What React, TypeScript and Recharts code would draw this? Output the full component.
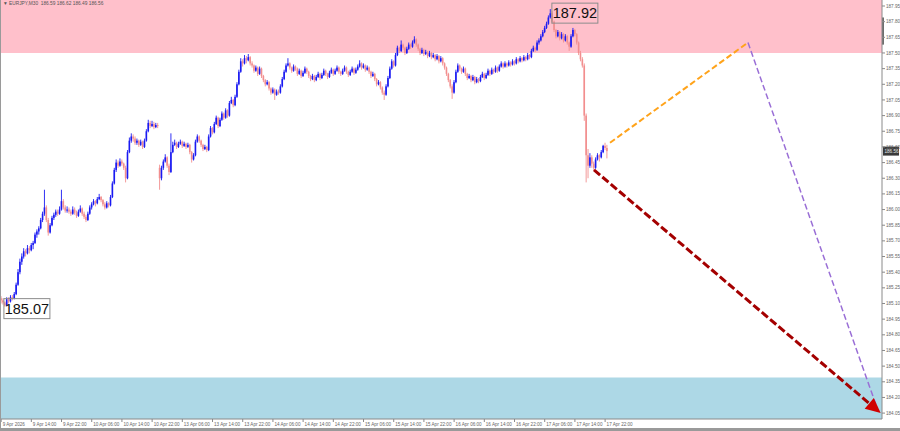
import { Bar, ComposedChart, ReferenceArea, ReferenceDot, ReferenceLine, XAxis, YAxis } from 'recharts'

type Ohlc = [number, number, number, number]

// EURJPY M30, one array per trading session, each bar is [open, high, low, close]
const apr09: Ohlc[] = [
  [185.15, 185.17, 185.1, 185.13], [185.13, 185.15, 185.09, 185.11], [185.11, 185.12, 185.07, 185.08], [185.08, 185.16, 185.08, 185.14], [185.14, 185.16, 185.1, 185.12], [185.12, 185.18, 185.11, 185.16],
  [185.16, 185.18, 185.13, 185.15], [185.15, 185.21, 185.14, 185.19], [185.19, 185.3, 185.18, 185.28], [185.28, 185.43, 185.27, 185.4], [185.4, 185.53, 185.38, 185.5], [185.5, 185.58, 185.47, 185.55],
  [185.55, 185.63, 185.53, 185.6], [185.6, 185.62, 185.55, 185.58], [185.58, 185.66, 185.57, 185.63], [185.63, 185.65, 185.58, 185.61], [185.61, 185.68, 185.6, 185.66], [185.66, 185.7, 185.62, 185.68],
  [185.68, 185.78, 185.67, 185.76], [185.76, 185.81, 185.73, 185.79], [185.79, 185.84, 185.76, 185.82], [185.82, 185.92, 185.81, 185.9], [185.9, 185.98, 185.88, 185.96], [185.96, 186.19, 185.94, 186.02],
  [186.02, 186.04, 185.88, 185.9], [185.9, 185.92, 185.75, 185.78], [185.78, 185.87, 185.77, 185.85], [185.85, 185.94, 185.84, 185.92], [185.92, 185.97, 185.9, 185.95], [185.95, 186.0, 185.93, 185.98],
  [185.98, 186.0, 185.94, 185.96], [185.96, 186.03, 185.95, 186.0], [186.0, 186.19, 185.99, 186.08], [186.08, 186.1, 186.0, 186.02], [186.02, 186.04, 185.97, 185.99], [185.99, 186.03, 185.97, 186.0],
]
const apr10: Ohlc[] = [
  [186.0, 186.02, 185.96, 185.98], [185.98, 186.0, 185.94, 185.96], [185.96, 186.03, 185.95, 186.0], [186.0, 186.02, 185.95, 185.97], [185.97, 185.99, 185.92, 185.94], [185.94, 186.0, 185.93, 185.98],
  [185.98, 186.04, 185.97, 186.01], [186.01, 186.02, 185.94, 185.96], [185.96, 185.98, 185.91, 185.93], [185.93, 185.95, 185.88, 185.9], [185.9, 185.98, 185.89, 185.96], [185.96, 186.04, 185.95, 186.02],
  [186.02, 186.07, 186.0, 186.05], [186.05, 186.1, 186.04, 186.08], [186.08, 186.09, 186.03, 186.06], [186.06, 186.12, 186.05, 186.1], [186.1, 186.15, 186.09, 186.12], [186.12, 186.13, 186.07, 186.09],
  [186.09, 186.1, 186.03, 186.05], [186.05, 186.07, 186.0, 186.02], [186.02, 186.08, 186.01, 186.06], [186.06, 186.07, 186.02, 186.04], [186.04, 186.14, 186.03, 186.12], [186.12, 186.27, 186.11, 186.25],
  [186.25, 186.4, 186.24, 186.38], [186.38, 186.48, 186.36, 186.45], [186.45, 186.47, 186.4, 186.42], [186.42, 186.49, 186.41, 186.46], [186.46, 186.48, 186.42, 186.44], [186.44, 186.45, 186.38, 186.4],
  [186.4, 186.42, 186.26, 186.3], [186.3, 186.57, 186.29, 186.55], [186.55, 186.69, 186.54, 186.66], [186.66, 186.73, 186.64, 186.7], [186.7, 186.72, 186.65, 186.68], [186.68, 186.7, 186.62, 186.64],
  [186.64, 186.68, 186.62, 186.66], [186.66, 186.67, 186.6, 186.62], [186.62, 186.67, 186.61, 186.65], [186.65, 186.66, 186.58, 186.6], [186.6, 186.68, 186.59, 186.66], [186.66, 186.77, 186.65, 186.75],
  [186.75, 186.86, 186.74, 186.83], [186.83, 186.85, 186.78, 186.8], [186.8, 186.85, 186.79, 186.82], [186.82, 186.84, 186.77, 186.79], [186.79, 186.83, 186.78, 186.81], [186.81, 186.83, 186.78, 186.8],
]
const apr13: Ohlc[] = [
  [186.4, 186.43, 186.19, 186.3], [186.3, 186.42, 186.28, 186.4], [186.4, 186.48, 186.38, 186.46], [186.46, 186.53, 186.45, 186.5], [186.5, 186.51, 186.4, 186.42], [186.42, 186.44, 186.33, 186.36],
  [186.36, 186.73, 186.35, 186.55], [186.55, 186.65, 186.54, 186.62], [186.62, 186.67, 186.61, 186.64], [186.64, 186.65, 186.58, 186.6], [186.6, 186.65, 186.59, 186.63], [186.63, 186.67, 186.62, 186.65],
  [186.65, 186.66, 186.59, 186.61], [186.61, 186.65, 186.6, 186.63], [186.63, 186.64, 186.58, 186.6], [186.6, 186.64, 186.59, 186.62], [186.62, 186.63, 186.53, 186.55], [186.55, 186.56, 186.45, 186.48],
  [186.48, 186.54, 186.47, 186.52], [186.52, 186.67, 186.51, 186.65], [186.65, 186.72, 186.64, 186.7], [186.7, 186.71, 186.64, 186.66], [186.66, 186.67, 186.6, 186.62], [186.62, 186.63, 186.56, 186.58],
  [186.58, 186.62, 186.57, 186.6], [186.6, 186.61, 186.55, 186.57], [186.57, 186.72, 186.56, 186.7], [186.7, 186.8, 186.69, 186.78], [186.78, 186.79, 186.72, 186.74], [186.74, 186.84, 186.73, 186.82],
  [186.82, 186.9, 186.81, 186.88], [186.88, 186.89, 186.78, 186.8], [186.8, 186.88, 186.79, 186.86], [186.86, 186.94, 186.85, 186.92], [186.92, 186.93, 186.86, 186.88], [186.88, 186.97, 186.87, 186.95],
  [186.95, 186.96, 186.88, 186.9], [186.9, 187.04, 186.89, 187.02], [187.02, 187.08, 187.01, 187.05], [187.05, 187.06, 186.98, 187.0], [187.0, 187.1, 186.99, 187.08], [187.08, 187.22, 187.07, 187.2],
  [187.2, 187.34, 187.19, 187.32], [187.32, 187.45, 187.31, 187.42], [187.42, 187.44, 187.37, 187.4], [187.4, 187.48, 187.39, 187.45], [187.45, 187.47, 187.4, 187.43], [187.43, 187.49, 187.42, 187.46],
]
const apr14: Ohlc[] = [
  [187.46, 187.47, 187.38, 187.4], [187.4, 187.42, 187.36, 187.38], [187.38, 187.39, 187.31, 187.33], [187.33, 187.38, 187.32, 187.36], [187.36, 187.37, 187.28, 187.3], [187.3, 187.37, 187.29, 187.35],
  [187.35, 187.36, 187.26, 187.28], [187.28, 187.29, 187.22, 187.24], [187.24, 187.25, 187.18, 187.2], [187.2, 187.24, 187.19, 187.22], [187.22, 187.23, 187.14, 187.16], [187.16, 187.17, 187.1, 187.12],
  [187.12, 187.17, 187.11, 187.15], [187.15, 187.16, 187.05, 187.1], [187.1, 187.15, 187.09, 187.13], [187.13, 187.15, 187.1, 187.12], [187.12, 187.2, 187.11, 187.18], [187.18, 187.27, 187.17, 187.25],
  [187.25, 187.34, 187.24, 187.32], [187.32, 187.4, 187.31, 187.38], [187.38, 187.45, 187.37, 187.4], [187.4, 187.41, 187.34, 187.36], [187.36, 187.37, 187.31, 187.33], [187.33, 187.39, 187.32, 187.37],
  [187.37, 187.38, 187.33, 187.35], [187.35, 187.36, 187.28, 187.3], [187.3, 187.35, 187.29, 187.33], [187.33, 187.34, 187.26, 187.28], [187.28, 187.33, 187.27, 187.31], [187.31, 187.37, 187.3, 187.35],
  [187.35, 187.36, 187.3, 187.32], [187.32, 187.33, 187.26, 187.28], [187.28, 187.29, 187.23, 187.25], [187.25, 187.3, 187.24, 187.28], [187.28, 187.29, 187.22, 187.24], [187.24, 187.29, 187.23, 187.27],
  [187.27, 187.32, 187.26, 187.3], [187.3, 187.31, 187.24, 187.26], [187.26, 187.31, 187.25, 187.29], [187.29, 187.35, 187.28, 187.33], [187.33, 187.34, 187.28, 187.3], [187.3, 187.31, 187.25, 187.27],
  [187.27, 187.33, 187.26, 187.31], [187.31, 187.36, 187.3, 187.34], [187.34, 187.35, 187.28, 187.3], [187.3, 187.35, 187.29, 187.33], [187.33, 187.38, 187.32, 187.36], [187.36, 187.37, 187.3, 187.32],
]
const apr15: Ohlc[] = [
  [187.32, 187.33, 187.28, 187.3], [187.3, 187.35, 187.29, 187.33], [187.33, 187.38, 187.32, 187.36], [187.36, 187.37, 187.3, 187.32], [187.32, 187.33, 187.27, 187.29], [187.29, 187.34, 187.28, 187.32],
  [187.32, 187.37, 187.31, 187.35], [187.35, 187.36, 187.29, 187.31], [187.31, 187.36, 187.3, 187.34], [187.34, 187.39, 187.33, 187.37], [187.37, 187.43, 187.36, 187.4], [187.4, 187.41, 187.34, 187.36],
  [187.36, 187.4, 187.35, 187.38], [187.38, 187.39, 187.32, 187.34], [187.34, 187.38, 187.33, 187.36], [187.36, 187.37, 187.3, 187.32], [187.32, 187.33, 187.26, 187.28], [187.28, 187.32, 187.27, 187.3],
  [187.3, 187.31, 187.23, 187.25], [187.25, 187.26, 187.18, 187.2], [187.2, 187.24, 187.19, 187.22], [187.22, 187.23, 187.15, 187.17], [187.17, 187.18, 187.1, 187.12], [187.12, 187.14, 187.05, 187.1],
  [187.1, 187.2, 187.09, 187.18], [187.18, 187.28, 187.17, 187.26], [187.26, 187.37, 187.25, 187.35], [187.35, 187.44, 187.34, 187.42], [187.42, 187.43, 187.36, 187.38], [187.38, 187.5, 187.37, 187.48],
  [187.48, 187.57, 187.47, 187.55], [187.55, 187.56, 187.5, 187.52], [187.52, 187.62, 187.51, 187.58], [187.58, 187.59, 187.53, 187.55], [187.55, 187.56, 187.48, 187.5], [187.5, 187.56, 187.49, 187.54],
  [187.54, 187.6, 187.53, 187.58], [187.58, 187.59, 187.54, 187.56], [187.56, 187.62, 187.55, 187.6], [187.6, 187.66, 187.59, 187.63], [187.63, 187.64, 187.56, 187.58], [187.58, 187.59, 187.52, 187.54],
  [187.54, 187.55, 187.48, 187.5], [187.5, 187.55, 187.49, 187.53], [187.53, 187.54, 187.47, 187.49], [187.49, 187.53, 187.48, 187.51], [187.51, 187.52, 187.45, 187.47], [187.47, 187.52, 187.46, 187.5],
]
const apr16: Ohlc[] = [
  [187.5, 187.51, 187.44, 187.46], [187.46, 187.5, 187.45, 187.48], [187.48, 187.49, 187.42, 187.44], [187.44, 187.49, 187.43, 187.47], [187.47, 187.48, 187.4, 187.42], [187.42, 187.47, 187.41, 187.45],
  [187.45, 187.46, 187.38, 187.4], [187.4, 187.41, 187.34, 187.36], [187.36, 187.37, 187.28, 187.3], [187.3, 187.31, 187.22, 187.24], [187.24, 187.25, 187.16, 187.18], [187.18, 187.2, 187.06, 187.12],
  [187.12, 187.24, 187.11, 187.22], [187.22, 187.34, 187.21, 187.32], [187.32, 187.4, 187.31, 187.38], [187.38, 187.39, 187.33, 187.35], [187.35, 187.36, 187.3, 187.32], [187.32, 187.37, 187.31, 187.35],
  [187.35, 187.36, 187.28, 187.3], [187.3, 187.31, 187.24, 187.26], [187.26, 187.3, 187.25, 187.28], [187.28, 187.29, 187.22, 187.24], [187.24, 187.29, 187.23, 187.27], [187.27, 187.28, 187.2, 187.22],
  [187.22, 187.27, 187.21, 187.25], [187.25, 187.26, 187.21, 187.23], [187.23, 187.29, 187.22, 187.27], [187.27, 187.32, 187.26, 187.3], [187.3, 187.31, 187.24, 187.26], [187.26, 187.31, 187.25, 187.29],
  [187.29, 187.35, 187.28, 187.33], [187.33, 187.34, 187.28, 187.3], [187.3, 187.36, 187.29, 187.34], [187.34, 187.35, 187.3, 187.32], [187.32, 187.38, 187.31, 187.36], [187.36, 187.37, 187.31, 187.33],
  [187.33, 187.39, 187.32, 187.37], [187.37, 187.42, 187.36, 187.4], [187.4, 187.41, 187.35, 187.37], [187.37, 187.42, 187.36, 187.4], [187.4, 187.41, 187.36, 187.38], [187.38, 187.43, 187.37, 187.41],
  [187.41, 187.42, 187.37, 187.39], [187.39, 187.44, 187.38, 187.42], [187.42, 187.43, 187.38, 187.4], [187.4, 187.46, 187.39, 187.44], [187.44, 187.45, 187.4, 187.42], [187.42, 187.47, 187.41, 187.45],
]
const apr17: Ohlc[] = [
  [187.45, 187.46, 187.41, 187.43], [187.43, 187.48, 187.42, 187.46], [187.46, 187.47, 187.42, 187.44], [187.44, 187.5, 187.43, 187.48], [187.48, 187.49, 187.44, 187.46], [187.46, 187.54, 187.45, 187.52],
  [187.52, 187.57, 187.51, 187.55], [187.55, 187.56, 187.51, 187.53], [187.53, 187.62, 187.52, 187.6], [187.6, 187.64, 187.58, 187.62], [187.62, 187.68, 187.61, 187.66], [187.66, 187.72, 187.65, 187.7],
  [187.7, 187.76, 187.69, 187.74], [187.74, 187.8, 187.73, 187.78], [187.78, 187.86, 187.77, 187.84], [187.84, 187.92, 187.83, 187.88], [187.88, 187.9, 187.78, 187.8], [187.8, 187.81, 187.7, 187.72],
  [187.72, 187.73, 187.64, 187.66], [187.66, 187.72, 187.65, 187.7], [187.7, 187.71, 187.62, 187.64], [187.64, 187.7, 187.63, 187.68], [187.68, 187.69, 187.6, 187.62], [187.62, 187.68, 187.61, 187.66],
  [187.66, 187.67, 187.58, 187.6], [187.6, 187.61, 187.52, 187.56], [187.56, 187.68, 187.55, 187.66], [187.66, 187.74, 187.65, 187.72], [187.72, 187.73, 187.66, 187.68], [187.68, 187.69, 187.58, 187.6],
  [187.6, 187.61, 187.48, 187.5], [187.5, 187.52, 187.42, 187.44], [187.44, 187.46, 187.36, 187.38], [187.38, 187.4, 186.85, 186.9], [186.9, 186.92, 186.26, 186.52], [186.52, 186.58, 186.3, 186.42],
  [186.42, 186.54, 186.4, 186.5], [186.5, 186.52, 186.4, 186.44], [186.44, 186.46, 186.38, 186.4], [186.4, 186.5, 186.39, 186.48], [186.48, 186.54, 186.47, 186.52], [186.52, 186.53, 186.46, 186.5],
  [186.5, 186.57, 186.49, 186.55], [186.55, 186.62, 186.54, 186.61], [186.61, 186.64, 186.57, 186.59], [186.59, 186.62, 186.49, 186.56],
]

const sessions = [apr09, apr10, apr13, apr14, apr15, apr16, apr17]

const priceTicks = [
  187.95, 187.8, 187.65, 187.5, 187.35, 187.2, 187.05, 186.9, 186.75, 186.6, 186.45, 186.3, 186.15, 186.0,
  185.85, 185.7, 185.55, 185.4, 185.25, 185.1, 184.95, 184.8, 184.65, 184.5, 184.35, 184.2, 184.05,
]
const dateTickBars = [0, 16, 32, 48, 64, 80, 96, 112, 128, 144, 160, 176, 192, 208, 224, 240, 256, 272, 288, 304, 320]
const dateTickLabels = [
  '9 Apr 2026', '9 Apr 14:00', '9 Apr 22:00', '10 Apr 06:00', '10 Apr 14:00', '10 Apr 22:00', '13 Apr 06:00',
  '13 Apr 14:00', '13 Apr 22:00', '14 Apr 06:00', '14 Apr 14:00', '14 Apr 22:00', '15 Apr 06:00', '15 Apr 14:00',
  '15 Apr 22:00', '16 Apr 06:00', '16 Apr 14:00', '16 Apr 22:00', '17 Apr 06:00', '17 Apr 14:00', '17 Apr 22:00',
]

const resistanceZone = [187.5, 188.1]
const supportZone = [183.9, 184.39]
const highMark = { bar: 291, price: 187.92 }
const lowMark = { bar: 2, price: 185.07 }
const lastQuote = { open: 186.59, high: 186.62, low: 186.49, close: 186.56 }
// darker stretch of the price scale (MT4 scale marker)
const scaleMarker = [187.58, 187.84]

// forecast paths, x in bars (future bars continue past the last candle)
const pullbackPath = [{ bar: 322.6, price: 186.64 }, { bar: 395.7, price: 187.6 }]
const reversalPath = [{ bar: 395.7, price: 187.6 }, { bar: 463.5, price: 184.13 }]
const targetPath = [{ bar: 314.1, price: 186.38 }, { bar: 466, price: 184.05 }]

const bars = sessions.flat().map(([o, h, l, c], i) => ({ i, o, h, l, c }))

const BULL = '#1a1af2'
const BEAR = '#f28e8e'
const AXIS = '#8a8a8a'
const TEXT = '#666'
const FONT = '"Liberation Sans", Arial, sans-serif'

function Candle(props: any) {
  const { x, y, width, height, payload } = props
  const { o, h, l, c } = payload
  const px = (p: number) => y + ((h - p) / (h - l)) * height
  const cx = x + width / 2
  const col = c >= o ? BULL : BEAR
  const top = px(Math.max(o, c))
  const bot = px(Math.min(o, c))
  return (
    <g>
      <line x1={cx} x2={cx} y1={px(h)} y2={px(l)} stroke={col} strokeWidth={0.9} />
      <rect x={cx - 0.8} y={top} width={1.6} height={Math.max(bot - top, 0.8)} fill={col} />
    </g>
  )
}

function DateTick({ x, y, payload }: any) {
  const label = dateTickLabels[dateTickBars.indexOf(payload.value)]
  return (
    <text x={x + 1.5} y={y + 3.5} fontSize={4.6} fill={TEXT} fontFamily={FONT} textAnchor="start">
      {label}
    </text>
  )
}

function PriceTick({ x, y, payload }: any) {
  return (
    <text x={x} y={y + 1.6} fontSize={4.6} fill={TEXT} fontFamily={FONT} textAnchor="start">
      {payload.value.toFixed(2)}
    </text>
  )
}

function PriceTag({ cx, cy, text, dx, dy }: any) {
  return (
    <g>
      <rect x={cx + dx} y={cy + dy - 10} width={46} height={20} fill="none" stroke="#8c8c8c" strokeWidth={1} />
      <text x={cx + dx + 23} y={cy + dy + 5} textAnchor="middle" fontSize={14.5} fill="#111" fontFamily={FONT}>
        {text}
      </text>
    </g>
  )
}

function AxisQuote({ viewBox }: any) {
  const x = viewBox.x + viewBox.width + 1
  const y = viewBox.y
  return (
    <g>
      <rect x={x} y={y - 4.5} width={16} height={9} fill="#3a3a3a" />
      <text x={x + 1.5} y={y + 1.7} fontSize={4.6} fill="#e8e8e8" fontFamily={FONT}>
        {lastQuote.close.toFixed(2)}
      </text>
    </g>
  )
}

function ScaleMarker({ x, y, width, height }: any) {
  return <rect x={x + width} y={y} width={2} height={height} fill="#6e6e6e" />
}

function DashedSegment(color: string, width: number, dash: string) {
  return (props: any) => (
    <line x1={props.x1} y1={props.y1} x2={props.x2} y2={props.y2} stroke={color} strokeWidth={width} strokeDasharray={dash} />
  )
}

function ArrowSegment(props: any) {
  const { x1, y1, x2, y2 } = props
  const len = Math.hypot(x2 - x1, y2 - y1)
  const ux = (x2 - x1) / len
  const uy = (y2 - y1) / len
  const head = 15
  const half = 7
  const bx = x2 - ux * head
  const by = y2 - uy * head
  return (
    <g>
      <line x1={x1} y1={y1} x2={bx} y2={by} stroke="#a40000" strokeWidth={3} strokeDasharray="8 3" />
      <polygon points={`${x2},${y2} ${bx - uy * half},${by + ux * half} ${bx + uy * half},${by - ux * half}`} fill="#d00000" />
    </g>
  )
}

export default function App() {
  return (
    <div style={{ position: 'relative', width: 900, height: 431, background: '#fff', overflow: 'hidden' }}>
      <style>{'body{margin:0}'}</style>
      <ComposedChart width={900} height={431} data={bars} margin={{ top: 0, right: 0, bottom: 0, left: 0 }}>
        <ReferenceArea y1={resistanceZone[0]} y2={resistanceZone[1]} fill="#ffc0cb" fillOpacity={1} stroke="none" ifOverflow="hidden" />
        <ReferenceArea y1={supportZone[0]} y2={supportZone[1]} fill="#add8e6" fillOpacity={1} stroke="none" ifOverflow="hidden" />
        <XAxis
          dataKey="i"
          type="number"
          domain={[-0.6, 466.7]}
          ticks={dateTickBars}
          interval={0}
          allowDataOverflow
          height={12}
          tickSize={3}
          tickMargin={0}
          stroke={AXIS}
          tick={<DateTick />}
        />
        <YAxis
          orientation="right"
          type="number"
          domain={[183.9935, 188.0075]}
          ticks={priceTicks}
          interval={0}
          allowDataOverflow
          width={18}
          tickSize={3}
          tickMargin={1}
          stroke={AXIS}
          tick={<PriceTick />}
        />
        <Bar dataKey={(d: any) => [d.l, d.h]} barSize={2} shape={<Candle />} isAnimationActive={false} />
        <ReferenceArea y1={scaleMarker[0]} y2={scaleMarker[1]} fill="none" stroke="none" shape={<ScaleMarker />} />
        <ReferenceLine
          segment={[{ x: pullbackPath[0].bar, y: pullbackPath[0].price }, { x: pullbackPath[1].bar, y: pullbackPath[1].price }]}
          shape={DashedSegment('#ffa31a', 2, '6 3')}
        />
        <ReferenceLine
          segment={[{ x: reversalPath[0].bar, y: reversalPath[0].price }, { x: reversalPath[1].bar, y: reversalPath[1].price }]}
          shape={DashedSegment('#9a6fd6', 1.5, '6 3')}
        />
        <ReferenceLine
          segment={[{ x: targetPath[0].bar, y: targetPath[0].price }, { x: targetPath[1].bar, y: targetPath[1].price }]}
          shape={ArrowSegment}
          ifOverflow="visible"
        />
        <ReferenceDot
          x={highMark.bar}
          y={highMark.price}
          shape={(p: any) => <PriceTag cx={p.cx} cy={p.cy} text={highMark.price.toFixed(2)} dx={1.5} dy={4} />}
        />
        <ReferenceDot
          x={lowMark.bar}
          y={lowMark.price}
          shape={(p: any) => <PriceTag cx={p.cx} cy={p.cy} text={lowMark.price.toFixed(2)} dx={-1} dy={2} />}
        />
        <ReferenceLine y={lastQuote.close} stroke="none" label={<AxisQuote />} />
      </ComposedChart>
      <div
        style={{ position: 'absolute', left: 3, top: 1, fontSize: 4.8, color: '#555', fontFamily: FONT, whiteSpace: 'pre' }}
      >
        {`▼ EURJPY,M30  ${lastQuote.open.toFixed(2)} ${lastQuote.high.toFixed(2)} ${lastQuote.low.toFixed(2)} ${lastQuote.close.toFixed(2)}`}
      </div>
      <div style={{ position: 'absolute', left: 0, top: 428, width: 900, height: 3, background: '#9a9a9a' }} />
      <div style={{ position: 'absolute', left: 0, top: 0, width: 1, height: 428, background: '#9a9a9a' }} />
    </div>
  )
}
